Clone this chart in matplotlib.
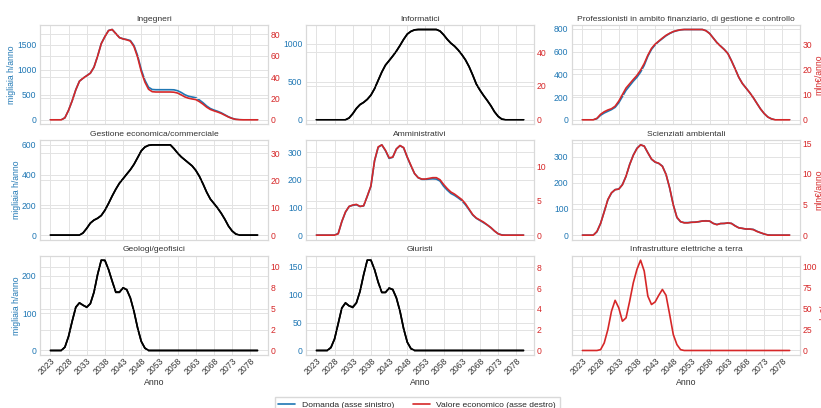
import matplotlib
matplotlib.use("Agg")
import matplotlib.pyplot as plt
import seaborn as sns
from matplotlib.lines import Line2D
from matplotlib.ticker import MaxNLocator, StrMethodFormatter

# Anni di proiezione
years = list(range(2023, 2081))
xtick_years = list(range(2023, 2080, 5))

# Domanda (migliaia h/anno) e valore economico (mln€/anno) per profilo
demand_ingegneri = [0, 0, 0, 0,
                    40, 190, 380, 600, 770, 830, 880, 930, 1050, 1270,
                    1520, 1660, 1780, 1800, 1720, 1640, 1615, 1600, 1580, 1480,
                    1280, 1000, 790, 650, 605, 600, 600, 600, 600, 600,
                    598, 580, 545, 500, 470, 455, 440, 395, 340, 275,
                    225, 195, 170, 140, 100, 60, 30, 10, 2,
                    0, 0, 0, 0, 0]
value_ingegneri = [0, 0, 0, 0,
                   1.9, 8.9, 17.8, 28.1, 36.1, 38.9, 41.2, 43.6, 49.2, 59.5,
                   71.2, 77.8, 83.4, 84.4, 80.6, 76.8, 75.6, 74.8, 73.6, 68.5,
                   58.5, 45.2, 35.3, 28.6, 26.3, 26.0, 26.0, 26.0, 26.0, 26.0,
                   25.8, 25.0, 23.3, 21.4, 20.2, 19.5, 18.9, 17.0, 14.6, 11.8,
                   9.7, 8.4, 7.3, 6.0, 4.3, 2.6, 1.3, 0.4, 0.1,
                   0, 0, 0, 0, 0]

demand_informatici = [0, 0, 0, 0, 0, 0, 0, 0, 0,
                      25, 80, 150, 200, 230, 270, 325, 410, 520, 630,
                      720, 780, 840, 905, 980, 1060, 1130, 1165, 1185,
                      1190, 1190, 1190, 1190, 1190, 1190,
                      1170, 1120, 1060, 1010, 970, 920, 860, 790, 700, 590,
                      470, 390, 320, 255, 185, 105, 45, 10,
                      0, 0, 0, 0, 0, 0]
value_informatici = [0, 0, 0, 0, 0, 0, 0, 0, 0,
                     1.1, 3.6, 6.7, 9.0, 10.3, 12.1, 14.6, 18.4, 23.3, 28.2,
                     32.3, 34.9, 37.6, 40.5, 43.9, 47.5, 50.6, 52.2, 53.1,
                     53.3, 53.3, 53.3, 53.3, 53.3, 53.3,
                     52.4, 50.2, 47.5, 45.2, 43.5, 41.2, 38.5, 35.4, 31.4, 26.4,
                     21.1, 17.5, 14.3, 11.4, 8.3, 4.7, 2.0, 0.4,
                     0, 0, 0, 0, 0, 0]

demand_professionisti = [0, 0, 0, 0,
                         10, 40, 60, 75, 90, 110, 150, 205, 260, 300,
                         340, 375, 420, 480, 560, 620, 660, 690, 715, 740,
                         760, 775, 785, 792, 795, 795, 795, 795, 795, 795,
                         785, 760, 720, 680, 650, 620, 585, 520, 450, 375,
                         320, 280, 240, 195, 145, 95, 55, 25, 8,
                         0, 0, 0, 0, 0]
value_professionisti = [0, 0, 0, 0,
                        0.6, 2.2, 3.2, 3.9, 4.4, 5.4, 7.4, 10.0, 12.6, 14.3,
                        16.0, 17.6, 19.7, 22.3, 25.6, 28.3, 30.0, 31.2, 32.4, 33.5,
                        34.3, 35.0, 35.4, 35.7, 35.8, 35.8, 35.8, 35.8, 35.8, 35.8,
                        35.3, 34.2, 32.4, 30.6, 29.2, 27.9, 26.3, 23.4, 20.2, 16.9,
                        14.4, 12.6, 10.8, 8.8, 6.5, 4.3, 2.5, 1.1, 0.4,
                        0, 0, 0, 0, 0]

demand_gestione = [0, 0, 0, 0, 0, 0, 0, 0, 0,
                   15, 45, 80, 100, 112, 130, 165, 210, 260, 305,
                   345, 375, 405, 435, 470, 515, 560, 585, 597,
                   600, 600, 600, 600, 600, 600,
                   575, 545, 520, 500, 480, 460, 430, 390, 340, 285,
                   240, 210, 180, 145, 105, 60, 28, 8,
                   0, 0, 0, 0, 0, 0]
value_gestione = [0, 0, 0, 0, 0, 0, 0, 0, 0,
                  0.8, 2.5, 4.4, 5.5, 6.2, 7.2, 9.1, 11.6, 14.3, 16.8,
                  19.0, 20.6, 22.3, 23.9, 25.9, 28.3, 30.8, 32.2, 32.8,
                  33.0, 33.0, 33.0, 33.0, 33.0, 33.0,
                  31.6, 30.0, 28.6, 27.5, 26.4, 25.3, 23.7, 21.5, 18.7, 15.7,
                  13.2, 11.6, 9.9, 8.0, 5.8, 3.3, 1.5, 0.4,
                  0, 0, 0, 0, 0, 0]

demand_amministrativi = [0, 0, 0, 0, 0, 0,
                         6, 49, 83, 104, 108, 110, 104, 106, 141, 177,
                         269, 318, 327, 306, 278, 282, 312, 324, 316, 282,
                         251, 223, 208,
                         202, 202, 203, 204, 203, 196, 177, 163, 151, 144,
                         135, 125, 110, 92, 73, 61, 53, 45, 37, 27,
                         15, 5, 1, 0,
                         0, 0, 0, 0, 0]
value_amministrativi = [0, 0, 0, 0, 0, 0,
                        0.2, 2.0, 3.4, 4.2, 4.4, 4.5, 4.2, 4.3, 5.7, 7.2,
                        10.9, 12.9, 13.2, 12.4, 11.3, 11.4, 12.6, 13.1, 12.8, 11.4,
                        10.2, 9.0, 8.4,
                        8.2, 8.2, 8.3, 8.4, 8.4, 8.1, 7.4, 6.8, 6.3, 6.0,
                        5.6, 5.2, 4.6, 3.8, 3.0, 2.5, 2.2, 1.9, 1.5, 1.1,
                        0.6, 0.2, 0.0, 0,
                        0, 0, 0, 0, 0]

demand_scienziati = [0, 0, 0, 0,
                     13, 45, 90, 135, 161, 174, 176, 193, 225, 270,
                     306, 332, 345, 340, 315, 290, 279, 274, 264, 232,
                     180, 116, 67, 51, 48, 48, 49, 50, 51, 54,
                     55, 53, 45, 41, 44, 45, 46, 45, 36, 28,
                     26, 23, 23, 22, 15, 9, 4, 1,
                     0, 0, 0, 0, 0, 0]
value_scienziati = [0, 0, 0, 0,
                    0.6, 1.9, 3.8, 5.8, 6.9, 7.4, 7.5, 8.2, 9.6, 11.5,
                    13.0, 14.1, 14.7, 14.5, 13.4, 12.4, 11.9, 11.7, 11.2, 9.9,
                    7.7, 4.9, 2.9, 2.2, 2.0, 2.0, 2.1, 2.1, 2.2, 2.3,
                    2.3, 2.3, 1.9, 1.7, 1.9, 1.9, 2.0, 1.9, 1.5, 1.2,
                    1.1, 1.0, 1.0, 0.9, 0.6, 0.4, 0.2, 0.0,
                    0, 0, 0, 0, 0, 0]

demand_geologi = [0, 0, 0, 0,
                  9, 37, 78, 115, 127, 121, 115, 125, 155, 203,
                  241, 240, 216, 185, 155, 155, 167, 162, 140, 104,
                  60, 24, 6] + [0] * 31
value_geologi = [0, 0, 0, 0,
                 0.4, 1.7, 3.5, 5.2, 5.7, 5.4, 5.2, 5.6, 7.0, 9.1,
                 10.8, 10.8, 9.7, 8.3, 7.0, 7.0, 7.5, 7.3, 6.3, 4.7,
                 2.7, 1.1, 0.3] + [0] * 31

demand_giuristi = [0, 0, 0, 0,
                   5, 21, 48, 76, 85, 80, 77, 85, 106, 136,
                   162, 162, 145, 122, 104, 104, 112, 109, 94, 70,
                   39, 15, 3] + [0] * 31
value_giuristi = [0, 0, 0, 0,
                  0.3, 1.1, 2.6, 4.1, 4.6, 4.3, 4.2, 4.6, 5.7, 7.3,
                  8.7, 8.7, 7.8, 6.6, 5.6, 5.6, 6.0, 5.9, 5.1, 3.8,
                  2.1, 0.8, 0.2] + [0] * 31

demand_infrastrutture = None
value_infrastrutture = [0, 0, 0, 0, 0,
                        1, 9, 25, 47, 60, 51, 35, 39, 59, 81,
                        97, 108, 95, 65, 55, 58, 66, 73, 66, 43,
                        19, 7, 1] + [0] * 30

BLUE = "tab:blue"
RED = "tab:red"
BLACK = "black"

# (titolo, domanda, valore, colore domanda, colore valore)
panels = [
    ("Ingegneri", demand_ingegneri, value_ingegneri, BLUE, RED),
    ("Informatici", demand_informatici, value_informatici, BLACK, BLACK),
    ("Professionisti in ambito finanziario, di gestione e controllo",
     demand_professionisti, value_professionisti, BLUE, RED),
    ("Gestione economica/commerciale", demand_gestione, value_gestione, BLACK, BLACK),
    ("Amministrativi", demand_amministrativi, value_amministrativi, BLUE, RED),
    ("Scienziati ambientali", demand_scienziati, value_scienziati, BLUE, RED),
    ("Geologi/geofisici", demand_geologi, value_geologi, BLACK, BLACK),
    ("Giuristi", demand_giuristi, value_giuristi, BLACK, BLACK),
    ("Infrastrutture elettriche a terra", demand_infrastrutture, value_infrastrutture, BLUE, RED),
]

sns.set_style("whitegrid")
plt.rcParams["font.family"] = ["Liberation Sans", "DejaVu Sans"]

fig, axes = plt.subplots(3, 3, figsize=(8.21, 4.08), dpi=100, sharex=True)
fig.subplots_adjust(left=40 / 821, right=800 / 821, top=383 / 408, bottom=53 / 408,
                    wspace=0.167, hspace=0.161)

LW = 1.2
TICK_FS = 6.2
for i, (title, demand, value, c_dem, c_val) in enumerate(panels):
    row, col = divmod(i, 3)
    ax = axes[row, col]
    ax2 = ax.twinx()

    if demand is not None:
        ax.plot(years, demand, color=c_dem, lw=LW)
    ax2.plot(years, value, color=c_val, lw=LW)

    for a in (ax, ax2):
        a.yaxis.set_major_locator(MaxNLocator(nbins=5, steps=[1, 2, 2.5, 5, 10]))
        a.yaxis.set_major_formatter(StrMethodFormatter("{x:.0f}"))
        for s in a.spines.values():
            s.set_color("#d9d9d9")
            s.set_linewidth(0.8)
        a.grid(True, color="#e3e3e3", lw=0.7)

    ax.tick_params(axis="y", labelsize=TICK_FS, labelcolor=BLUE, pad=2.5, length=0)
    ax2.tick_params(axis="y", labelsize=TICK_FS, labelcolor=RED, pad=2, length=0)
    if demand is None:
        ax.tick_params(axis="y", labelleft=False)

    ax.set_title(title, fontsize=6.1, color="#333333", pad=3)
    ax.set_xticks(xtick_years)

    if col == 0:
        ax.set_ylabel("migliaia h/anno", fontsize=6.2, color=BLUE, labelpad=1)
    if col == 2:
        ax2.set_ylabel("mln€/anno", fontsize=6.2, color=RED, labelpad=1.5)

    if row == 2:
        ax.tick_params(axis="x", labelsize=TICK_FS, labelcolor="#333333", pad=1, length=0)
        for lab in ax.get_xticklabels():
            lab.set_rotation(45)
            lab.set_ha("right")
            lab.set_rotation_mode("anchor")
        ax.set_xlabel("Anno", fontsize=6.3, color="#333333", labelpad=1)

handles = [Line2D([], [], color=BLUE, lw=LW), Line2D([], [], color=RED, lw=LW)]
fig.legend(handles, ["Domanda (asse sinistro)", "Valore economico (asse destro)"],
           loc="upper center", bbox_to_anchor=(0.508, 15 / 408), ncol=2, fontsize=6.1,
           frameon=True, edgecolor="#d0d0d0", fancybox=False, columnspacing=2.2)

fig.savefig("out.png", dpi=100)
